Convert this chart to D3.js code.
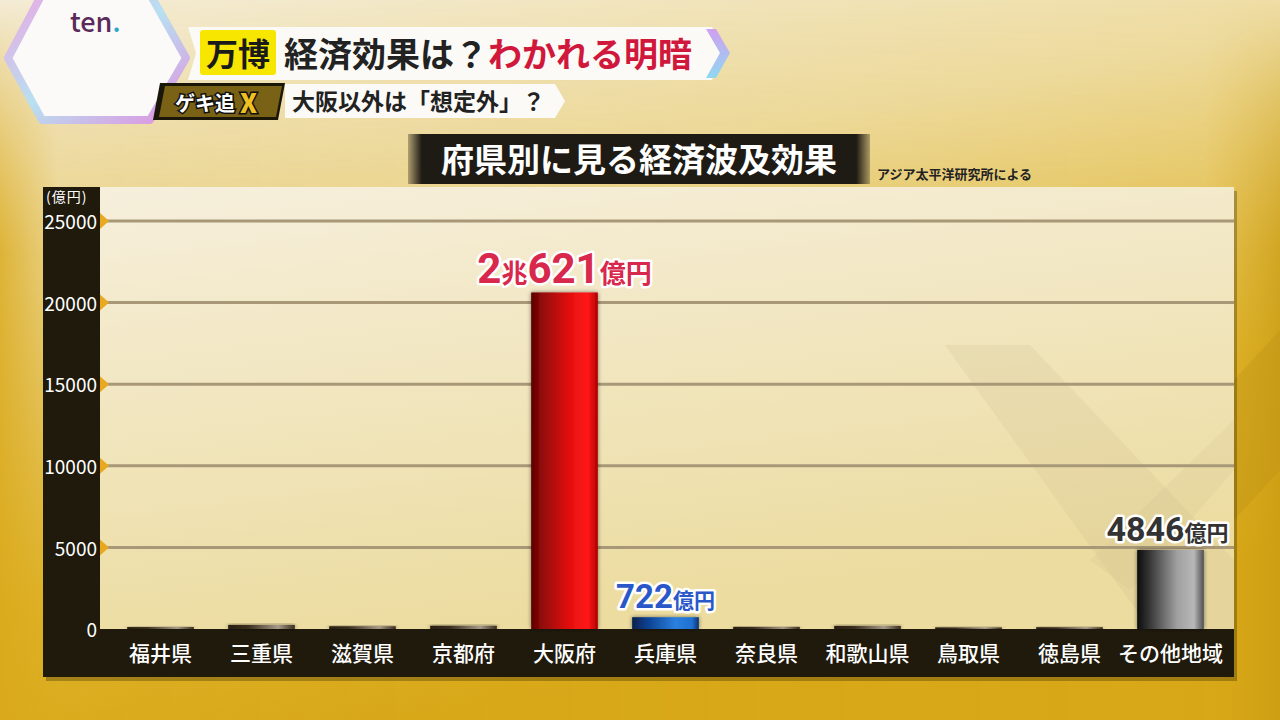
<!DOCTYPE html>
<html><head><meta charset="utf-8">
<script src="https://cdn.jsdelivr.net/npm/d3@7"></script>
<style>
html,body{margin:0;padding:0;background:#e8c84a;}
svg{display:block;}
text{font-family:"Noto Sans CJK JP","Noto Sans",sans-serif;}
</style></head>
<body>
<svg id="c" width="1280" height="720"></svg>
<script>
// ---- data ----
const categories = ["福井県","三重県","滋賀県","京都府","大阪府","兵庫県","奈良県","和歌山県","鳥取県","徳島県","その他地域"];
const values = [120, 250, 170, 200, 20621, 722, 130, 190, 100, 110, 4846];
const colorKeys = ["small","small","small","small","red","blue","small","small","small","small","gray"];
const valueLabels = ["","","","","2兆621億円","722億円","","","","","4846億円"];
const yTicks = [0, 5000, 10000, 15000, 20000, 25000];
const yUnit = "(億円)";
const chartTitle = "府県別に見る経済波及効果";
const sourceText = "アジア太平洋研究所による";

const svg = d3.select("#c");
const defs = svg.append("defs");

// background
const bg = defs.append("linearGradient").attr("id","bg").attr("x1",0).attr("y1",0).attr("x2",0.35).attr("y2",1);
bg.append("stop").attr("offset",0).attr("stop-color","#f4ecd6");
bg.append("stop").attr("offset",0.35).attr("stop-color","#eedca0");
bg.append("stop").attr("offset",0.75).attr("stop-color","#e0b52c");
bg.append("stop").attr("offset",1).attr("stop-color","#d8a818");
svg.append("rect").attr("width",1280).attr("height",720).attr("fill","url(#bg)");
const bg2 = defs.append("linearGradient").attr("id","bg2").attr("x1",0).attr("y1",0).attr("x2",1).attr("y2",0);
bg2.append("stop").attr("offset",0).attr("stop-color","#d9a81a").attr("stop-opacity",0.8);
bg2.append("stop").attr("offset",0.045).attr("stop-color","#d9a81a").attr("stop-opacity",0.2);
bg2.append("stop").attr("offset",0.94).attr("stop-color","#d9a81a").attr("stop-opacity",0.1);
bg2.append("stop").attr("offset",1).attr("stop-color","#c89a10").attr("stop-opacity",0.7);
const vm = defs.append("linearGradient").attr("id","vm").attr("x1",0).attr("y1",0).attr("x2",0).attr("y2",1);
vm.append("stop").attr("offset",0).attr("stop-color","#fff").attr("stop-opacity",0);
vm.append("stop").attr("offset",0.35).attr("stop-color","#fff").attr("stop-opacity",1);
vm.append("stop").attr("offset",1).attr("stop-color","#fff").attr("stop-opacity",1);
defs.append("mask").attr("id","vmask").append("rect").attr("width",1280).attr("height",720).attr("fill","url(#vm)");
svg.append("rect").attr("width",1280).attr("height",720).attr("fill","url(#bg2)").attr("mask","url(#vmask)");
svg.append("polygon").attr("points","1234,380 1280,330 1280,470 1234,520").attr("fill","#b89018").attr("opacity",0.3);

// ---- header ----
const hexG = defs.append("linearGradient").attr("id","hexG").attr("x1",0).attr("y1",0).attr("x2",1).attr("y2",1);
hexG.append("stop").attr("offset",0).attr("stop-color","#eaa8e4");
hexG.append("stop").attr("offset",0.5).attr("stop-color","#b8e0f0");
hexG.append("stop").attr("offset",1).attr("stop-color","#e090e0");
svg.append("polygon").attr("points","42,-6 150,-6 186,58 150,120 42,120 8,58")
  .attr("fill","#fbfaf8").attr("stroke","url(#hexG)").attr("stroke-width",8).attr("stroke-linejoin","round");
svg.append("text").attr("x",70).attr("y",32).attr("font-family","Lato, Roboto, sans-serif").attr("font-size",27)
  .attr("font-weight",500).attr("fill","#5a2a58").text("ten").append("tspan").attr("fill","#2aa8c8").text(".");

// title banner
svg.append("polygon").attr("points","188,27 712,27 724,53 712,80 188,80 196,53").attr("fill","#fbfaf6");
const chev = defs.append("linearGradient").attr("id","chev").attr("x1",0).attr("y1",0).attr("x2",0).attr("y2",1);
chev.append("stop").attr("offset",0).attr("stop-color","#d0a0f0");
chev.append("stop").attr("offset",1).attr("stop-color","#90d8f0");
svg.append("polygon").attr("points","706,29 716,29 730,53 716,78 706,78 720,53").attr("fill","url(#chev)");
svg.append("rect").attr("x",200).attr("y",30).attr("width",76).attr("height",45).attr("rx",3).attr("fill","#f7e600");
svg.append("text").attr("x",238).attr("y",66).attr("text-anchor","middle").attr("font-size",32).attr("font-weight",700).attr("fill","#1a1a1a").text("万博");
svg.append("text").attr("x",284).attr("y",67).attr("font-size",34).attr("font-weight",700).attr("fill","#222")
  .text("経済効果は？").append("tspan").attr("fill","#d0183c").text("わかれる明暗");

// second row
svg.append("polygon").attr("points","160,83 285,83 278,120 153,120").attr("fill","#1a1608");
svg.append("polygon").attr("points","165,86 282,86 276,117 159,117").attr("fill","#c8a020").attr("opacity",0.55);
svg.append("text").attr("x",175).attr("y",111).attr("font-size",20).attr("font-weight",700).attr("fill","#fff")
  .attr("stroke","#111").attr("stroke-width",3).attr("paint-order","stroke").text("ゲキ追");
svg.append("text").attr("x",240).attr("y",113).attr("font-size",26).attr("font-weight",900).attr("fill","#f0c020")
  .attr("stroke","#111").attr("stroke-width",3).attr("paint-order","stroke").text("X");
svg.append("polygon").attr("points","285,84 555,84 565,101 555,118 285,118").attr("fill","#fbfaf6");
svg.append("text").attr("x",292).attr("y",110).attr("font-size",23).attr("font-weight",700).attr("fill","#222").text("大阪以外は「想定外」？");

// chart title box
const tg = defs.append("linearGradient").attr("id","tg").attr("x1",0).attr("y1",0).attr("x2",1).attr("y2",0);
tg.append("stop").attr("offset",0).attr("stop-color","#1e1a14").attr("stop-opacity",0.3);
tg.append("stop").attr("offset",0.03).attr("stop-color","#1e1a14").attr("stop-opacity",1);
tg.append("stop").attr("offset",0.97).attr("stop-color","#1e1a14").attr("stop-opacity",1);
tg.append("stop").attr("offset",1).attr("stop-color","#1e1a14").attr("stop-opacity",0.3);
svg.append("rect").attr("x",408).attr("y",134).attr("width",462).attr("height",50).attr("fill","url(#tg)");
svg.append("text").attr("x",639).attr("y",172).attr("text-anchor","middle").attr("font-size",33).attr("font-weight",700)
  .attr("fill","#fff").text(chartTitle);
svg.append("text").attr("x",877).attr("y",179).attr("font-size",13).attr("font-weight",700).attr("fill","#222").text(sourceText);

// ---- chart frame ----
const L = 100, R = 1234, T = 187, B = 629, FB = 677;
svg.append("rect").attr("x",46).attr("y",191).attr("width",R-43).attr("height",FB-187).attr("fill","#000").attr("opacity",0.25);
const pg = defs.append("linearGradient").attr("id","pg").attr("x1",0).attr("y1",0).attr("x2",0.3).attr("y2",1);
pg.append("stop").attr("offset",0).attr("stop-color","#f6efdc");
pg.append("stop").attr("offset",1).attr("stop-color","#ecdca0");
svg.append("rect").attr("x",L).attr("y",T).attr("width",R-L).attr("height",B-T).attr("fill","url(#pg)");
svg.append("polygon").attr("points","945,345 1030,345 1234,560 1234,629 1150,629").attr("fill","#c8b888").attr("opacity",0.18);
svg.append("polygon").attr("points","1234,420 1234,470 1130,590 1090,560").attr("fill","#c8b888").attr("opacity",0.15);
svg.append("rect").attr("x",43).attr("y",T).attr("width",L-43).attr("height",FB-T).attr("fill","#1f1a0c");
svg.append("rect").attr("x",43).attr("y",B).attr("width",R-43).attr("height",FB-B).attr("fill","#1f1a0c");

const y = d3.scaleLinear().domain([0,25000]).range([B,221]);
const x = d3.scaleBand().domain(categories).range([110,1221]).paddingInner(0.34).paddingOuter(0.17);

svg.append("g").selectAll("line").data(yTicks.filter(d=>d>0)).join("line")
  .attr("x1",L).attr("x2",R).attr("y1",d=>y(d)).attr("y2",d=>y(d))
  .attr("stroke","#a89878").attr("stroke-width",3);
svg.append("g").selectAll("path").data(yTicks.filter(d=>d>0)).join("path")
  .attr("d",d=>`M${L},${y(d)-8} L${L+9},${y(d)} L${L},${y(d)+8} Z`).attr("fill","#e8a820");
const yAxis = svg.append("g").attr("transform",`translate(${L-3},0)`)
  .call(d3.axisLeft(y).tickValues(yTicks).tickSize(0).tickPadding(0).tickFormat(d3.format("d")));
yAxis.select(".domain").remove();
yAxis.selectAll("text").attr("font-size",19).attr("fill","#fff").attr("font-family","Roboto, 'Noto Sans', sans-serif")
  .attr("dy","0.4em");
svg.append("text").attr("x",46).attr("y",202).attr("font-size",14).attr("fill","#fff").attr("letter-spacing",1).text(yUnit);

const grads = {
  red:  [["0","#5a0000"],["0.15","#900808"],["0.6","#e81010"],["0.85","#ff1818"],["1","#b00000"]],
  blue: [["0","#06204a"],["0.2","#0a3c8a"],["0.65","#2a80e0"],["0.9","#2070d0"],["1","#0a3070"]],
  gray: [["0","#0c0c0c"],["0.2","#3a3a3a"],["0.6","#a0a0a0"],["0.85","#b8b8b8"],["1","#505050"]],
  small:[["0","#2a1e10"],["0.3","#3a2e20"],["0.75","#a89a88"],["1","#3a2e20"]]
};
Object.entries(grads).forEach(([k,stops])=>{
  const g = defs.append("linearGradient").attr("id","bar-"+k).attr("x1",0).attr("y1",0).attr("x2",1).attr("y2",0);
  stops.forEach(s=>g.append("stop").attr("offset",s[0]).attr("stop-color",s[1]));
});
const sh = defs.append("filter").attr("id","bsh").attr("x","-30%").attr("y","-30%").attr("width","160%").attr("height","160%");
sh.append("feGaussianBlur").attr("in","SourceAlpha").attr("stdDeviation",2).attr("result","b");
sh.append("feComponentTransfer").attr("in","b").attr("result","o2").append("feFuncA").attr("type","linear").attr("slope",0.5);
const fm = sh.append("feMerge"); fm.append("feMergeNode").attr("in","o2"); fm.append("feMergeNode").attr("in","SourceGraphic");

const data = categories.map((c,i)=>({c, v:values[i], k:colorKeys[i], lab:valueLabels[i]}));
svg.append("g").selectAll("rect").data(data).join("rect")
  .attr("x",d=>x(d.c)).attr("width",x.bandwidth())
  .attr("y",d=>y(d.v)).attr("height",d=>B-y(d.v))
  .attr("fill",d=>"url(#bar-"+d.k+")").attr("filter","url(#bsh)");

svg.append("g").selectAll("text").data(data).join("text")
  .attr("x",d=>x(d.c)+x.bandwidth()/2).attr("y",661).attr("text-anchor","middle")
  .attr("font-size",21).attr("font-weight",500).attr("fill","#fff").text(d=>d.c);

const labStyle = {red:{fill:"#d8284c",big:42,small:26,dx:0}, blue:{fill:"#2a58c8",big:33,small:21,dx:0}, gray:{fill:"#333333",big:34,small:22,dx:-3}};
const lg = svg.append("g").selectAll("text").data(data.filter(d=>d.lab)).join("text")
  .attr("x",d=>x(d.c)+x.bandwidth()/2+labStyle[d.k].dx).attr("y",d=>y(d.v)-9)
  .attr("text-anchor","middle").attr("font-weight",700)
  .attr("fill",d=>labStyle[d.k].fill).attr("stroke","#fff").attr("stroke-width",5)
  .attr("stroke-linejoin","round").attr("paint-order","stroke");
lg.each(function(d){
  const st = labStyle[d.k];
  const parts = d.lab.match(/\d+|\D+/g);
  const t = d3.select(this);
  parts.forEach(p=>{
    const isNum = /\d/.test(p);
    t.append("tspan").attr("font-size",isNum?st.big:st.small)
     .attr("font-family",isNum?"Roboto, 'Noto Sans', sans-serif":null).text(p);
  });
});
</script>
</body></html>
